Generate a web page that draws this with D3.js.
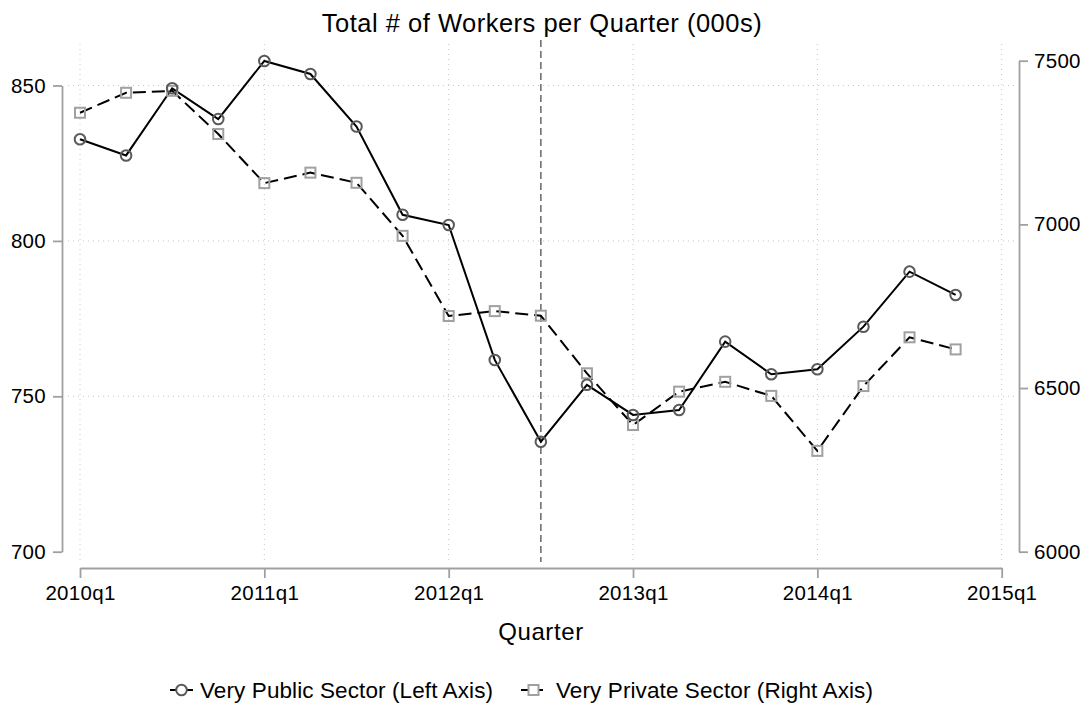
<!DOCTYPE html>
<html>
  <head>
    <title>Workers per Quarter</title>
    <script src="https://d3js.org/d3.v7.min.js"></script>
    <style>
      body { margin: 0; background: #fff; }
      text { font-family: "Liberation Sans", Arial, sans-serif; fill: #000; }
    </style>
  </head>

  <body>
    <svg id="plot" width="1087" height="704"></svg>

    <script>
      // data
      var quarters = ["2010q1","2010q2","2010q3","2010q4","2011q1","2011q2","2011q3","2011q4",
                      "2012q1","2012q2","2012q3","2012q4","2013q1","2013q2","2013q3","2013q4",
                      "2014q1","2014q2","2014q3","2014q4"];
      var publicSector = [832.7, 827.5, 849.1, 839.2, 857.9, 853.7, 836.8, 808.4,
                          805.1, 761.7, 735.4, 753.7, 744.0, 745.6, 767.6, 757.1,
                          758.7, 772.4, 790.1, 782.6];
      var privateSector = [7341, 7402, 7408, 7276, 7126, 7158, 7127, 6965,
                           6720, 6735, 6721, 6545, 6387, 6489, 6519, 6476,
                           6308, 6506, 6655, 6618];
      var xTickLabels = ["2010q1","2011q1","2012q1","2013q1","2014q1","2015q1"];
      var leftTicks = [700, 750, 800, 850];
      var rightTicks = [6000, 6500, 7000, 7500];
      var refLine = "2012q3";

      var qIndex = function (q) {
        return (+q.slice(0, 4) - 2010) * 4 + (+q.slice(5) - 1);
      };

      const svg = d3.select("#plot");

      var x = d3.scaleLinear().domain([0, 20]).range([80, 1001.7]);
      var yL = d3.scaleLinear().domain([700, 850]).range([551.7, 85.5]);
      var yR = d3.scaleLinear().domain([6000, 7500]).range([551.7, 60.7]);

      // grid
      var grid = svg.append("g");
      grid.selectAll("line.h")
        .data(leftTicks.filter((d) => d > 700))
        .join("line")
        .attr("x1", 68).attr("x2", 1016)
        .attr("y1", (d) => yL(d)).attr("y2", (d) => yL(d))
        .attr("stroke", "#c8c8c8").attr("stroke-width", 1)
        .attr("stroke-dasharray", "1,4");
      grid.selectAll("line.v")
        .data(xTickLabels)
        .join("line")
        .attr("x1", (d) => x(qIndex(d))).attr("x2", (d) => x(qIndex(d)))
        .attr("y1", 44).attr("y2", 562)
        .attr("stroke", "#c8c8c8").attr("stroke-width", 1)
        .attr("stroke-dasharray", "1,4");

      // reference line
      svg.append("line")
        .attr("x1", x(qIndex(refLine))).attr("x2", x(qIndex(refLine)))
        .attr("y1", 40).attr("y2", 562)
        .attr("stroke", "#707070").attr("stroke-width", 1.6)
        .attr("stroke-dasharray", "7,4");

      // axes
      var styleAxis = function (g) {
        g.select(".domain").attr("stroke", "#a0a0a0").attr("stroke-width", 1.8);
        g.selectAll(".tick line").attr("stroke", "#a0a0a0").attr("stroke-width", 1.8);
        g.selectAll(".tick text")
          .style("font-family", '"Liberation Sans", Arial, sans-serif')
          .style("font-size", "20.5px").style("letter-spacing", "0.3px")
          .attr("fill", "#000");
      };

      svg.append("g")
        .attr("transform", "translate(0,568)")
        .call(d3.axisBottom(x)
          .tickValues(xTickLabels.map(qIndex))
          .tickFormat((d, i) => xTickLabels[i])
          .tickSize(10).tickSizeOuter(0).tickPadding(7))
        .call(styleAxis);

      svg.append("g")
        .attr("transform", "translate(62,0)")
        .call(d3.axisLeft(yL).tickValues(leftTicks).tickFormat(d3.format("d"))
          .tickSize(9).tickSizeOuter(0).tickPadding(7))
        .call(styleAxis);

      svg.append("g")
        .attr("transform", "translate(1019,0)")
        .call(d3.axisRight(yR).tickValues(rightTicks).tickFormat(d3.format("d"))
          .tickSize(9).tickSizeOuter(0).tickPadding(6))
        .call(styleAxis);

      // lines
      var pubLine = d3.line()
        .x((d, i) => x(qIndex(quarters[i])))
        .y((d) => yL(d));
      var privLine = d3.line()
        .x((d, i) => x(qIndex(quarters[i])))
        .y((d) => yR(d));

      svg.append("path")
        .datum(privateSector)
        .attr("d", privLine)
        .attr("fill", "none").attr("stroke", "#000").attr("stroke-width", 2)
        .attr("stroke-dasharray", "13,6");

      svg.append("path")
        .datum(publicSector)
        .attr("d", pubLine)
        .attr("fill", "none").attr("stroke", "#000").attr("stroke-width", 2);

      // markers
      svg.selectAll("rect.priv")
        .data(privateSector)
        .join("rect")
        .attr("x", (d, i) => x(qIndex(quarters[i])) - 5)
        .attr("y", (d) => yR(d) - 5)
        .attr("width", 10).attr("height", 10)
        .attr("fill", "none").attr("stroke", "#a0a0a0").attr("stroke-width", 2);

      svg.selectAll("circle.pub")
        .data(publicSector)
        .join("circle")
        .attr("cx", (d, i) => x(qIndex(quarters[i])))
        .attr("cy", (d) => yL(d))
        .attr("r", 5.3)
        .attr("fill", "none").attr("stroke", "#5a5a5a").attr("stroke-width", 2);

      // titles
      svg.append("text")
        .attr("x", 542).attr("y", 32)
        .attr("text-anchor", "middle")
        .style("font-size", "25.5px").style("letter-spacing", "0.5px")
        .text("Total # of Workers per Quarter (000s)");

      svg.append("text")
        .attr("x", 541).attr("y", 640)
        .attr("text-anchor", "middle")
        .style("font-size", "24px").style("letter-spacing", "0.6px")
        .text("Quarter");

      // legend
      var legend = svg.append("g").attr("transform", "translate(0,690)");
      legend.append("line")
        .attr("x1", 170).attr("x2", 193).attr("y1", 0).attr("y2", 0)
        .attr("stroke", "#000").attr("stroke-width", 2);
      legend.append("circle")
        .attr("cx", 181.5).attr("cy", 0).attr("r", 5.3)
        .attr("fill", "#fff").attr("stroke", "#5a5a5a").attr("stroke-width", 2);
      legend.append("text")
        .attr("x", 200).attr("y", 8)
        .style("font-size", "22.5px").style("letter-spacing", "0.1px")
        .text("Very Public Sector (Left Axis)");

      legend.append("line")
        .attr("x1", 521).attr("x2", 546).attr("y1", 0).attr("y2", 0)
        .attr("stroke", "#000").attr("stroke-width", 2)
        .attr("stroke-dasharray", "9,4");
      legend.append("rect")
        .attr("x", 528.5).attr("y", -5).attr("width", 10).attr("height", 10)
        .attr("fill", "#fff").attr("stroke", "#a0a0a0").attr("stroke-width", 2);
      legend.append("text")
        .attr("x", 556).attr("y", 8)
        .style("font-size", "22.5px").style("letter-spacing", "0.1px")
        .text("Very Private Sector (Right Axis)");
    </script>
  </body>
</html>
